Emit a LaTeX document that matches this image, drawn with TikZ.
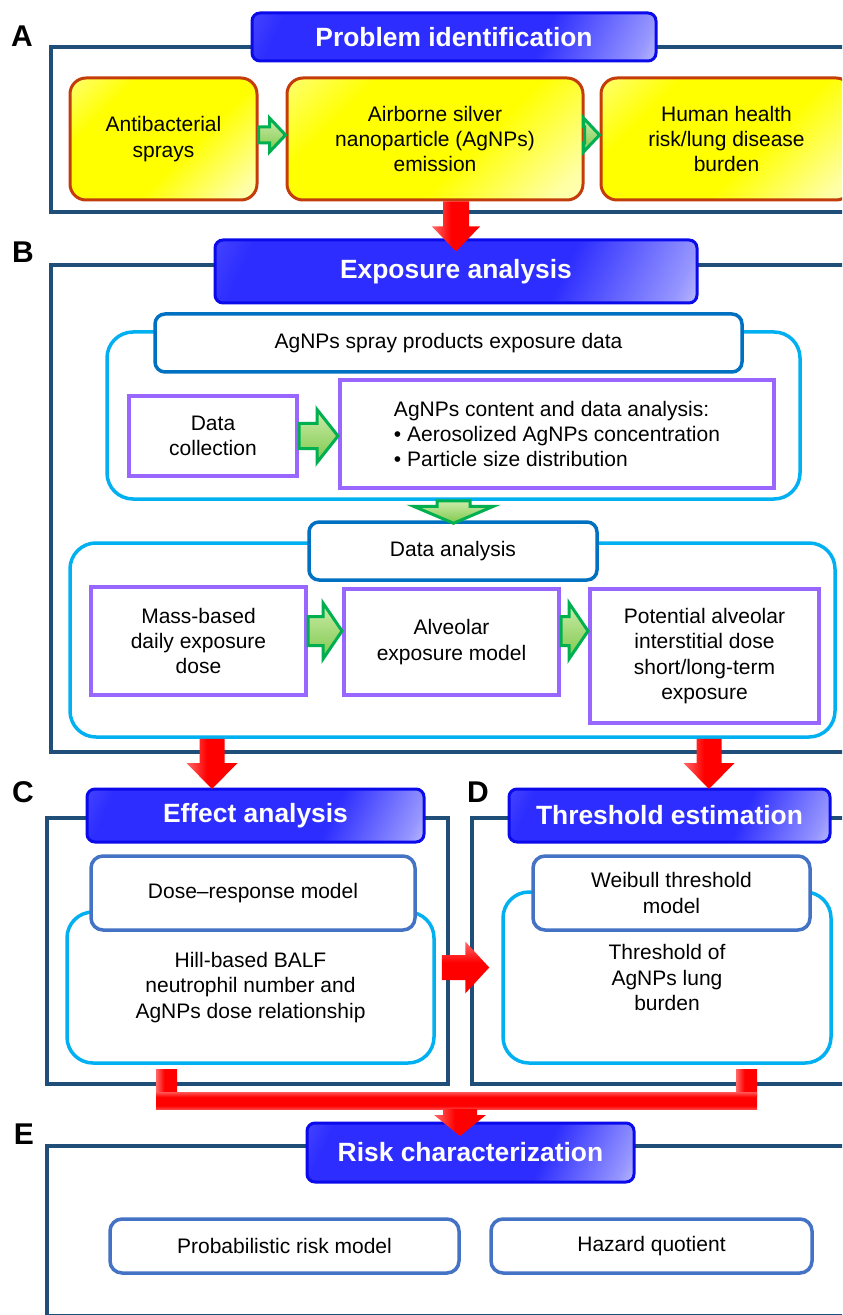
\documentclass[tikz,border=0pt]{standalone}
\usepackage{fontspec}
\setmainfont{Liberation Sans}
\usetikzlibrary{calc}
\definecolor{framec}{RGB}{31,78,121}
\definecolor{tborder}{RGB}{10,10,235}
\definecolor{tblue}{RGB}{45,45,255}
\definecolor{ybord}{RGB}{196,60,10}
\definecolor{cyanc}{RGB}{0,176,240}
\definecolor{darkblue}{RGB}{0,112,192}
\definecolor{midblue}{RGB}{68,114,196}
\definecolor{purp}{RGB}{153,102,255}
\definecolor{gdark}{RGB}{0,176,80}
\definecolor{glight}{RGB}{205,236,170}
\definecolor{gmid}{RGB}{125,200,75}
\newcommand{\bodyf}{\fontsize{10.5}{12.6}\selectfont}
\newcommand{\titlef}{\fontsize{13.2}{15}\selectfont\bfseries}
\pgfdeclarehorizontalshading{titlegloss}{100bp}{color(0bp)=(tblue!55!white); color(22bp)=(tblue); color(64bp)=(tblue); color(80bp)=(tblue!50!white); color(90bp)=(white); color(100bp)=(white)}
\pgfdeclarehorizontalshading{yellowgloss}{100bp}{color(0bp)=(yellow!15!white); color(30bp)=(yellow); color(58bp)=(yellow); color(80bp)=(yellow!35!white); color(100bp)=(yellow!15!white)}
\pgfdeclarehorizontalshading{redgloss}{100bp}{color(0bp)=(red!8!white); color(45bp)=(red); color(100bp)=(red)}
\pgfdeclareverticalshading{redbar}{100bp}{color(0bp)=(red!12!white); color(35bp)=(red); color(60bp)=(red); color(100bp)=(red!10!white)}
% fat arrows: style, from, to, half shaft, half head, head length
\newcommand{\fatright}[6]{%
  \path[#1] let \p1=(#2), \p2=(#3) in
    (\x1,\y1+#4) -- (\x2-#6,\y1+#4) -- (\x2-#6,\y1+#5) -- (\x2,\y1)
    -- (\x2-#6,\y1-#5) -- (\x2-#6,\y1-#4) -- (\x1,\y1-#4) -- cycle;}
\newcommand{\fatdown}[6]{%
  \path[#1] let \p1=(#2), \p2=(#3) in
    (\x1-#4,\y1) -- (\x1+#4,\y1) -- (\x1+#4,\y2+#6) -- (\x1+#5,\y2+#6)
    -- (\x1,\y2) -- (\x1-#5,\y2+#6) -- (\x1-#4,\y2+#6) -- cycle;}
\begin{document}
\begin{tikzpicture}[x=0.5pt, y=-0.5pt,
    letter/.style={font=\fontsize{15}{15}\selectfont\bfseries, inner sep=0pt},
    frame/.style={draw=framec, line width=2pt},
    titlebox/.style={draw=tborder, line width=1.5pt, rounded corners=4pt, shading=titlegloss, shading angle=-25, text=white, font=\titlef, inner sep=0pt},
    yellowbox/.style={draw=ybord, line width=1.5pt, rounded corners=8pt, shading=yellowgloss, shading angle=-45, align=center, font=\bodyf, inner sep=0pt},
    area/.style={draw=cyanc, line width=1.75pt, rounded corners=13pt, fill=white, align=center, font=\bodyf, inner sep=0pt},
    headbox/.style={draw=darkblue, line width=1.75pt, rounded corners=5pt, fill=white, align=center, font=\bodyf, inner sep=0pt},
    modelbox/.style={draw=midblue, line width=1.75pt, rounded corners=6pt, fill=white, align=center, font=\bodyf, inner sep=0pt},
    stepbox/.style={draw=purp, line width=2pt, fill=white, align=center, font=\bodyf, inner sep=0pt},
    garrow/.style={draw=gdark, line width=1.5pt, top color=glight, bottom color=gmid},
    redv/.style={shading=redgloss, shading angle=0},
    redh/.style={shading=redgloss, shading angle=-90},
    redjoin/.style={shading=redbar}]
  \clip (0,0) rectangle (842,1315);
  \fill[white] (0,0) rectangle (842,1315);

  % A
  \node[letter] (labA) at (22,36) {A};
  \draw[frame] (51,47) rectangle (870,212);
  \node[titlebox, minimum width=202pt, minimum height=24pt] (probid) at (454,37) {Problem identification};
  \node[yellowbox, minimum width=93.5pt, minimum height=61pt] (spray) at (163.5,139) {Antibacterial\\sprays};
  \node[yellowbox, minimum width=148pt, minimum height=61pt] (emission) at (435,139) {Airborne silver\\nanoparticle (AgNPs)\\emission};
  \node[yellowbox, minimum width=125.5pt, minimum height=61pt] (health) at (726.5,139) {Human health\\risk/lung disease\\burden};
  \fatright{garrow}{[yshift=2pt]spray.east}{emission.west}{4pt}{8.5pt}{8pt}
  \fatright{garrow}{[yshift=2pt]emission.east}{health.west}{4pt}{8.5pt}{8pt}

  % B
  \node[letter] (labB) at (23,252) {B};
  \draw[frame] (51,265) rectangle (870,752);
  \node[titlebox, minimum width=241pt, minimum height=31.5pt] (expana) at (456,271.5) {Exposure analysis};
  \fatdown{redv}{expana.north |- emission.south}{[yshift=-6.5pt]expana.north}{6.5pt}{12pt}{12.5pt}
  \node[area, minimum width=346.5pt, minimum height=83.5pt] (exparea) at (453.5,415.5) {};
  \node[headbox, minimum width=293.5pt, minimum height=29pt] (expdata) at (448.5,343) {AgNPs spray products exposure data};
  \node[stepbox, minimum width=84pt, minimum height=40pt] (collect) at (213,436) {Data\\collection};
  \node[stepbox, minimum width=217pt, minimum height=54pt, align=left] (content) at (557,434) {AgNPs content and data analysis:\\• Aerosolized AgNPs concentration\\• Particle size distribution};
  \fatright{garrow}{collect.east}{content.west}{6.25pt}{13.25pt}{10.5pt}
  \node[area, minimum width=382.5pt, minimum height=97pt] (anaarea) at (452.5,640) {};
  \node[headbox, minimum width=144pt, minimum height=29pt] (dataana) at (453,551) {Data analysis};
  \fatdown{garrow}{exparea.south}{[yshift=-1.5pt]dataana.north}{8.25pt}{20pt}{8.5pt}
  \node[stepbox, minimum width=107.5pt, minimum height=54pt] (mass) at (198.5,641) {Mass-based\\daily exposure\\dose};
  \node[stepbox, minimum width=107.5pt, minimum height=53pt] (alveolar) at (451.5,642) {Alveolar\\exposure model};
  \node[stepbox, minimum width=114.5pt, minimum height=67pt] (potential) at (704.5,656) {Potential alveolar\\interstitial dose\\short/long-term\\exposure};
  \fatright{garrow}{[yshift=5pt]mass.east}{alveolar.west}{7.25pt}{14pt}{9.5pt}
  \fatright{garrow}{[yshift=5.5pt]alveolar.east}{potential.west}{7.25pt}{14pt}{9.5pt}

  % C
  \node[letter] (labC) at (23,792) {C};
  \draw[frame] (47,818) rectangle (448,1084);
  \node[area, minimum width=183.5pt, minimum height=75.5pt] (hillarea) at (250.5,987.5) {Hill-based BALF\\neutrophil number and\\AgNPs dose relationship};
  \node[modelbox, minimum width=162pt, minimum height=37pt] (doseresp) at (253,893) {Dose–response model};
  \node[titlebox, minimum width=168.5pt, minimum height=26.5pt] (effect) at (255.5,815.5) {Effect analysis};

  % D
  \node[letter] (labD) at (478,792) {D};
  \draw[frame] (472,818) rectangle (870,1084);
  \node[area, minimum width=164pt, minimum height=85.5pt] (burdenarea) at (667,977.5) {Threshold of\\AgNPs lung\\burden};
  \node[modelbox, minimum width=138.5pt, minimum height=37pt] (weibull) at (671.5,893) {Weibull threshold\\model};
  \node[titlebox, minimum width=160.5pt, minimum height=26.5pt] (threshold) at (669.5,815.5) {Threshold estimation};

  % red links
  \coordinate (tipC) at (212,789);
  \coordinate (tipD) at (709,789);
  \fatdown{redv}{tipC |- anaarea.south}{tipC}{6.25pt}{12.75pt}{13pt}
  \fatdown{redv}{tipD |- anaarea.south}{tipD}{6.25pt}{12.75pt}{13pt}
  \fatright{redh}{[xshift=3pt,yshift=10pt]hillarea.east}{[xshift=-6pt]burdenarea.west}{6.25pt}{13pt}{12pt}
  \coordinate (joinM) at (460,1109);
  \coordinate (tipE) at (460,1136);
  \path[redv] (156,1069) rectangle (177,1096);
  \path[redv] (736,1069) rectangle (757,1096);
  \path[redjoin] (156,1092) rectangle (757,1109);

  % E
  \node[letter] (labE) at (24,1134) {E};
  \draw[frame] (47,1146) rectangle (870,1316);
  \node[titlebox, minimum width=163.5pt, minimum height=29.5pt] (riskchar) at (470.5,1152.5) {Risk characterization};
  \fatdown{redv}{joinM}{tipE}{8.5pt}{13pt}{10.5pt}
  \node[modelbox, minimum width=174.5pt, minimum height=27pt] (probrisk) at (284.5,1246) {Probabilistic risk model};
  \node[modelbox, minimum width=160.5pt, minimum height=27pt] (hazard) at (651.5,1246) {Hazard quotient};
\end{tikzpicture}
\end{document}
